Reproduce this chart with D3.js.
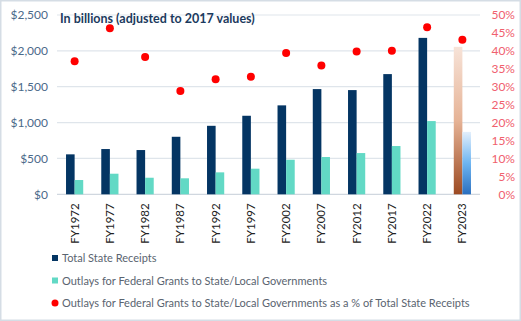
<!DOCTYPE html>
<html>
<head>
<meta charset="utf-8">
<script src="https://cdn.jsdelivr.net/npm/d3@7"></script>
<style>
  html, body { margin: 0; padding: 0; background: #fff; }
  #app { width: 521px; height: 321px; }
  text { font-family: Lato, "Open Sans", sans-serif; }
</style>
</head>
<body>
<div id="app"></div>
<script>
const years = ["FY1972","FY1977","FY1982","FY1987","FY1992","FY1997","FY2002","FY2007","FY2012","FY2017","FY2022","FY2023"];
const receipts = [557, 631, 617, 802, 955, 1095, 1240, 1467, 1453, 1676, 2181, 2056];
const grants = [199, 287, 231, 223, 306, 357, 482, 520, 575, 673, 1021, 870];
const pctShare = [37.1, 46.3, 38.3, 28.8, 32.1, 32.8, 39.4, 35.9, 39.8, 40.0, 46.6, 43.1];
const leftTicks = [0, 500, 1000, 1500, 2000, 2500];
const rightTicks = [0, 5, 10, 15, 20, 25, 30, 35, 40, 45, 50];
const legendLabels = [
    "Total State Receipts",
    "Outlays for Federal Grants to State/Local Governments",
    "Outlays for Federal Grants to State/Local Governments as a % of Total State Receipts"
];

const W = 521, H = 321;
const plot = { left: 57, right: 480, top: 15, bottom: 194.3 };

const svg = d3.select("#app").append("svg")
    .attr("width", W)
    .attr("height", H);

// chart border
svg.append("rect")
    .attr("x", 0.75).attr("y", 0.75)
    .attr("width", W - 1.5).attr("height", H - 1.5)
    .attr("fill", "#fff")
    .attr("stroke", "#d5dde5")
    .attr("stroke-width", 1.5);

// gradients for the projected year
const defs = svg.append("defs");
const peach = defs.append("linearGradient").attr("id", "peach")
    .attr("x1", 0).attr("y1", 0).attr("x2", 0).attr("y2", 1);
peach.append("stop").attr("offset", "0%").attr("stop-color", "#f7e3d8");
peach.append("stop").attr("offset", "50%").attr("stop-color", "#e6b396");
peach.append("stop").attr("offset", "100%").attr("stop-color", "#9c4a22");
const blue = defs.append("linearGradient").attr("id", "blue")
    .attr("x1", 0).attr("y1", 0).attr("x2", 0).attr("y2", 1);
blue.append("stop").attr("offset", "0%").attr("stop-color", "#e3effc");
blue.append("stop").attr("offset", "50%").attr("stop-color", "#6db5f2");
blue.append("stop").attr("offset", "100%").attr("stop-color", "#2a6fbf");

const x = d3.scaleBand()
    .domain(years)
    .range([plot.left, plot.right]);

// two bars side by side, about a quarter of the band each
const xSub = d3.scaleBand()
    .domain(["r", "g"])
    .range([0, x.bandwidth()])
    .paddingInner(0)
    .paddingOuter(1.05);

const yL = d3.scaleLinear().domain([0, 2500]).range([plot.bottom, plot.top]);
const yR = d3.scaleLinear().domain([0, 50]).range([plot.bottom, plot.top]);

// gridlines
svg.append("g")
    .selectAll("line")
    .data(leftTicks)
    .join("line")
    .attr("x1", plot.left).attr("x2", plot.right)
    .attr("y1", d => yL(d)).attr("y2", d => yL(d))
    .attr("stroke", d => d === 0 ? "#d0d7df" : "#dfe5eb")
    .attr("stroke-width", 1.2);

// left axis
const leftAxis = svg.append("g")
    .attr("transform", `translate(${plot.left - 6},0)`)
    .call(d3.axisLeft(yL).tickValues(leftTicks).tickSize(0).tickFormat(d => "$" + d3.format(",")(d)));
leftAxis.select(".domain").remove();
leftAxis.selectAll("text")
    .attr("fill", "#4b6a8a")
    .attr("font-size", "12px");

// right axis
const rightAxis = svg.append("g")
    .attr("transform", `translate(${plot.right + 35},0)`)
    .call(d3.axisLeft(yR).tickValues(rightTicks).tickSize(0).tickFormat(d => d + "%"));
rightAxis.select(".domain").remove();
rightAxis.selectAll("text")
    .attr("fill", "#f0606e")
    .attr("font-size", "12px")
    .attr("x", 0);

// bars
const last = years.length - 1;
svg.append("g")
    .selectAll("rect")
    .data(years)
    .join("rect")
    .attr("x", d => x(d) + xSub("r"))
    .attr("y", (d, i) => yL(receipts[i]))
    .attr("width", xSub.bandwidth())
    .attr("height", (d, i) => yL(0) - yL(receipts[i]))
    .attr("fill", (d, i) => i === last ? "url(#peach)" : "#043563");

svg.append("g")
    .selectAll("rect")
    .data(years)
    .join("rect")
    .attr("x", d => x(d) + xSub("g"))
    .attr("y", (d, i) => yL(grants[i]))
    .attr("width", xSub.bandwidth())
    .attr("height", (d, i) => yL(0) - yL(grants[i]))
    .attr("fill", (d, i) => i === last ? "url(#blue)" : "#62d9c5");

// dots
svg.append("g")
    .selectAll("circle")
    .data(years)
    .join("circle")
    .attr("cx", d => x(d) + x.bandwidth() / 2)
    .attr("cy", (d, i) => yR(pctShare[i]))
    .attr("r", 4)
    .attr("fill", "#ff0000");

// x labels, rotated
svg.append("g")
    .selectAll("text")
    .data(years)
    .join("text")
    .attr("transform", d => `translate(${x(d) + x.bandwidth() / 2 + 4},${plot.bottom + 9}) rotate(-90)`)
    .attr("text-anchor", "end")
    .attr("font-size", "11.5px")
    .attr("fill", "#222")
    .text(d => d);

// title
svg.append("text")
    .attr("x", 60).attr("y", 23)
    .attr("font-size", "12.5px")
    .attr("font-weight", "bold")
    .attr("fill", "#1b3a5e")
    .text("In billions (adjusted to 2017 values)");

// legend
const legend = svg.append("g")
    .selectAll("g")
    .data(legendLabels)
    .join("g")
    .attr("transform", (d, i) => `translate(52,${258 + i * 22.5})`);

legend.each(function (d, i) {
    const g = d3.select(this);
    if (i < 2) {
        g.append("rect")
            .attr("x", 0).attr("y", -3).attr("width", 6).attr("height", 6)
            .attr("fill", i === 0 ? "#043563" : "#62d9c5");
    } else {
        g.append("circle").attr("cx", 3).attr("cy", 0).attr("r", 3.5).attr("fill", "#ff0000");
    }
    g.append("text")
        .attr("x", 10).attr("y", 4)
        .attr("font-size", "11px")
        .attr("fill", "#5a6470")
        .text(d);
});
</script>
</body>
</html>
